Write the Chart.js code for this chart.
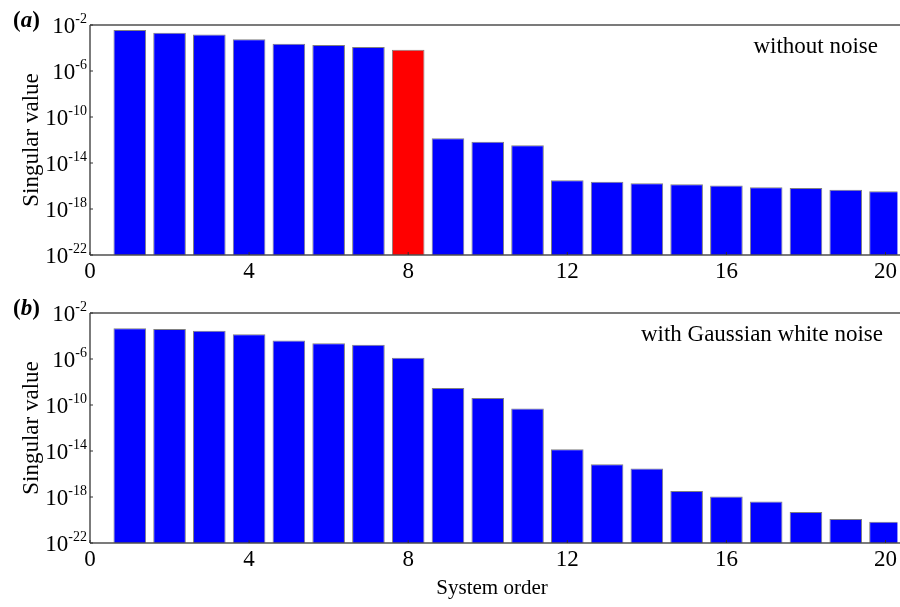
<!DOCTYPE html>
<html>
<head>
<meta charset="utf-8">
<script src="https://cdn.jsdelivr.net/npm/chart.js@4.4.1/dist/chart.umd.min.js"></script>
<style>
  body { margin: 0; background: #fff; }
  #wrap { position: relative; width: 900px; height: 607px; }
  canvas { position: absolute; left: 0; }
</style>
</head>
<body>
<div id="wrap">
  <canvas id="chartA" width="900" height="290" style="top:0"></canvas>
  <canvas id="chartB" width="900" height="317" style="top:290px"></canvas>
</div>
<script>
// Ordem do sistema (eixo x)
const orders = [1, 2, 3, 4, 5, 6, 7, 8, 9, 10, 11, 12, 13, 14, 15, 16, 17, 18, 19, 20];

// Valores singulares
const withoutNoise = [3.7e-3, 2.1e-3, 1.5e-3, 5.8e-4, 2.4e-4, 1.8e-4, 1.2e-4, 7.1e-5,
    1.4e-12, 7.2e-13, 3.5e-13, 3.2e-16, 2.4e-16, 1.7e-16, 1.4e-16, 1.1e-16, 7.6e-17, 6.8e-17, 4.8e-17, 3.5e-17];
const withNoise = [4.7e-4, 4.1e-4, 2.8e-4, 1.4e-4, 4.0e-5, 2.3e-5, 1.7e-5, 1.3e-6,
    3.0e-9, 4.1e-10, 4.9e-11, 1.4e-14, 6.9e-16, 3.0e-16, 3.3e-18, 1.1e-18, 4.0e-19, 5.0e-20, 1.2e-20, 7.2e-21];

// Ticks
const xTicks = [0, 4, 8, 12, 16, 20];
const yTicks = [1e-22, 1e-18, 1e-14, 1e-10, 1e-6, 1e-2];
const yTickExp = ['-22', '-18', '-14', '-10', '-6', '-2'];

const SERIF = '"Liberation Serif", "Times New Roman", serif';

// Plugin para eixos, rótulos e textos
const extras = {
    id: 'extras',
    afterDraw(chart, args, opts) {
        const ctx = chart.ctx;
        const a = chart.chartArea;
        const x = chart.scales.x;
        const y = chart.scales.y;
        ctx.save();

        // Linhas do quadro
        ctx.strokeStyle = '#505050';
        ctx.lineWidth = 1.5;
        ctx.beginPath();
        ctx.moveTo(a.left, a.top);
        ctx.lineTo(chart.width, a.top);
        ctx.moveTo(a.left, a.top);
        ctx.lineTo(a.left, a.bottom);
        ctx.moveTo(a.left, a.bottom);
        ctx.lineTo(chart.width, a.bottom);
        ctx.stroke();

        // Pequenos ticks internos
        ctx.lineWidth = 1;
        ctx.strokeStyle = '#303030';
        ctx.beginPath();
        xTicks.forEach(v => {
            const px = x.getPixelForValue(v);
            ctx.moveTo(px, a.bottom);
            ctx.lineTo(px, a.bottom - 3);
        });
        yTicks.forEach(v => {
            const py = y.getPixelForValue(v);
            ctx.moveTo(a.left, py);
            ctx.lineTo(a.left + 3, py);
        });
        ctx.stroke();

        // Rótulos do eixo y (10 com expoente)
        ctx.fillStyle = '#000';
        ctx.textAlign = 'right';
        ctx.textBaseline = 'alphabetic';
        yTicks.forEach((v, i) => {
            const py = y.getPixelForValue(v);
            ctx.font = '14px ' + SERIF;
            const ew = ctx.measureText(yTickExp[i]).width;
            ctx.fillText(yTickExp[i], 87, py - 2);
            ctx.font = '23px ' + SERIF;
            ctx.fillText('10', 87 - ew, py + 7.5);
        });

        // Título do eixo y
        ctx.save();
        ctx.translate(32, (a.top + a.bottom) / 2);
        ctx.rotate(-Math.PI / 2);
        ctx.textAlign = 'center';
        ctx.textBaseline = 'middle';
        ctx.font = '23px ' + SERIF;
        ctx.fillText('Singular value', 0, 0);
        ctx.restore();

        // Letra do painel: (a) / (b)
        ctx.textAlign = 'left';
        let lx = 13;
        const ly = a.top + 2;
        ctx.font = 'bold 23px ' + SERIF;
        ctx.fillText('(', lx, ly);
        lx += ctx.measureText('(').width;
        ctx.font = 'italic bold 23px ' + SERIF;
        ctx.fillText(opts.panel, lx, ly);
        lx += ctx.measureText(opts.panel).width;
        ctx.font = 'bold 23px ' + SERIF;
        ctx.fillText(')', lx, ly);

        // Nota no canto superior direito
        ctx.textAlign = 'right';
        ctx.font = '23px ' + SERIF;
        ctx.fillText(opts.note, opts.noteX, a.top + 28);

        // Título do eixo x
        if (opts.xTitle) {
            ctx.textAlign = 'center';
            ctx.font = '21px ' + SERIF;
            ctx.fillText(opts.xTitle, 492, chart.height - 13);
        }
        ctx.restore();
    }
};

function makePanel(canvasId, values, colors, panel, note, noteX, xTitle, padTop, xHeight) {
    const ctx = document.getElementById(canvasId).getContext('2d');
    return new Chart(ctx, {
        type: 'bar',
        data: {
            datasets: [{
                data: orders.map((o, i) => ({ x: o, y: values[i] })),
                backgroundColor: colors,
                borderColor: '#808080',
                borderWidth: 1,
                categoryPercentage: 0.82,
                barPercentage: 1.0
            }]
        },
        options: {
            responsive: false,
            animation: false,
            events: [],
            layout: { autoPadding: false, padding: { top: padTop, left: 0, right: 0, bottom: 0 } },
            plugins: {
                legend: { display: false },
                tooltip: { enabled: false },
                extras: { panel: panel, note: note, noteX: noteX, xTitle: xTitle }
            },
            scales: {
                x: {
                    type: 'linear',
                    min: 0,
                    max: 20.3,
                    offset: false,
                    grid: { display: false, drawTicks: false, offset: false },
                    border: { display: false },
                    afterBuildTicks: s => { s.ticks = xTicks.map(v => ({ value: v })); },
                    afterFit: s => { s.height = xHeight; },
                    ticks: {
                        autoSkip: false,
                        maxRotation: 0,
                        padding: 3,
                        color: '#000',
                        font: { family: SERIF, size: 23 }
                    }
                },
                y: {
                    type: 'logarithmic',
                    min: 1e-22,
                    max: 1e-2,
                    grid: { display: false, drawTicks: false },
                    border: { display: false },
                    afterBuildTicks: s => { s.ticks = yTicks.map(v => ({ value: v })); },
                    afterFit: s => { s.width = 90; },
                    ticks: { display: false }
                }
            }
        },
        plugins: [extras]
    });
}

// Cores das barras: a ordem 8 em vermelho no painel (a)
const colorsA = orders.map(o => o === 8 ? '#ff0000' : '#0000ff');
const colorsB = orders.map(() => '#0000ff');

makePanel('chartA', withoutNoise, colorsA, 'a', 'without noise', 878, null, 25, 35);
makePanel('chartB', withNoise, colorsB, 'b', 'with Gaussian white noise', 883, 'System order', 23, 64);
</script>
</body>
</html>
